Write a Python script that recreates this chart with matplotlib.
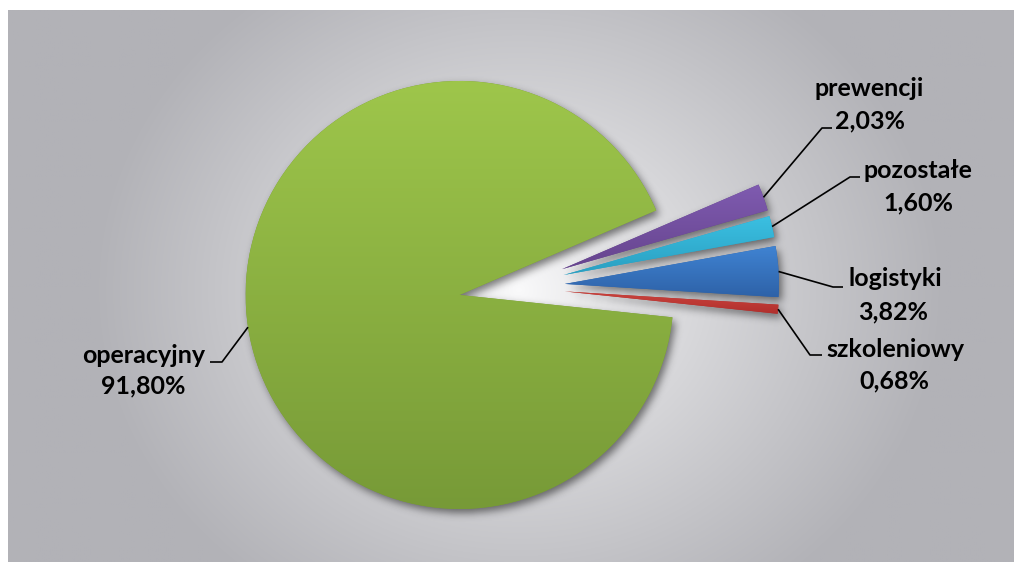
import numpy as np
import matplotlib.pyplot as plt
from matplotlib.colors import LinearSegmentedColormap

W, H = 1014, 562

# data
names = ['szkoleniowy', 'logistyki', 'pozostałe', 'prewencji', 'operacyjny']
shares = [0.68, 3.82, 1.60, 2.03, 91.80]
tops = ['#cb433d', '#4084d3', '#3bc0e2', '#7f5bb0', '#9ec64b']
bottoms = ['#b02f2d', '#2e62a8', '#2a9fc1', '#66448e', '#779a37']

# layout (image pixels, y measured from top)
name_xy = [(895, 357), (895, 286), (918, 178), (869, 96), (144, 363)]
pct_xy = [(894, 388), (893, 319), (918, 210), (870, 128), (143, 393)]
elbow = [(810, 355), (833, 287), (850, 177), (822, 128), (222, 362)]
tail = [(822, 355), (843, 287), (860, 177), (832, 128), (210, 362)]

pie_c = (512, 287)
pie_r = 214
boom = 53


def px(p):
    return (p[0], H - p[1])


fig = plt.figure(figsize=(W / 100, H / 100), dpi=100)
fig.patch.set_facecolor('white')
ax = fig.add_axes([0, 0, 1, 1])

# radial background
gx, gy = np.meshgrid(np.arange(W) + 0.5, np.arange(H) + 0.5)
cx, cy = 515, H - 285
t = np.sqrt(((gx - cx) / 430) ** 2 + ((gy - cy) / 380) ** 2)
t = np.clip(t, 0, 1) ** 0.85
inner = np.array([250, 250, 251]) / 255
outer = np.array([178, 178, 183]) / 255
bg = inner + (outer - inner) * t[..., None]
ax.imshow(bg, extent=(8, W, 0, H - 10), origin='lower', zorder=0,
          interpolation='bilinear')

wedges, _ = ax.pie(shares, startangle=-6, counterclock=True,
                   explode=[boom] * len(shares), radius=pie_r,
                   center=px(pie_c), colors=bottoms,
                   wedgeprops=dict(linewidth=0, zorder=2))

# soft drop shadow
pts = np.column_stack([gx.ravel(), gy.ravel()])
mask = np.zeros(gx.shape, dtype=float)
for w in wedges:
    mask = np.maximum(mask, w.get_path().contains_points(pts).reshape(gx.shape))
mask = np.roll(mask, 3, axis=1)
mask = np.roll(mask, -4, axis=0)
k = np.exp(-0.5 * (np.arange(-12, 13) / 4.0) ** 2)
k /= k.sum()
mask = np.apply_along_axis(lambda r: np.convolve(r, k, mode='same'), 1, mask)
mask = np.apply_along_axis(lambda c: np.convolve(c, k, mode='same'), 0, mask)
shadow = np.zeros(gx.shape + (4,))
shadow[..., 3] = mask * 0.5
ax.imshow(shadow, extent=(0, W, 0, H), origin='lower', zorder=1)

# vertical gradient inside each slice
for w, c0, c1 in zip(wedges, tops, bottoms):
    ext = w.get_path().get_extents()
    cmap = LinearSegmentedColormap.from_list('g', [c1, c0])
    im = ax.imshow(np.linspace(0, 1, 256).reshape(-1, 1), cmap=cmap,
                   extent=(ext.x0, ext.x1, ext.y0, ext.y1), origin='lower',
                   aspect='auto', zorder=3, interpolation='bilinear')
    im.set_clip_path(w)

# leader lines and labels
font = dict(ha='center', va='baseline', fontsize=18, fontweight='bold',
            family='Lato', color='black', zorder=5)
for w, n, v, nxy, vxy, e, tl in zip(wedges, names, shares, name_xy, pct_xy,
                                    elbow, tail):
    ang = np.deg2rad((w.theta1 + w.theta2) / 2)
    sx = w.center[0] + w.r * np.cos(ang)
    sy = w.center[1] + w.r * np.sin(ang)
    ex, ey = px(e)
    tx, ty = px(tl)
    ax.plot([sx, ex, tx], [sy, ey, ty], color='black', lw=1.2, zorder=4,
            solid_capstyle='butt')
    ax.text(*px(nxy), n, **font)
    ax.text(*px(vxy), f'{v:.2f}'.replace('.', ',') + '%', **font)

ax.set_xlim(0, W)
ax.set_ylim(0, H)
ax.set_aspect('auto')
ax.axis('off')

fig.savefig('out.png', dpi=100, facecolor='white')
